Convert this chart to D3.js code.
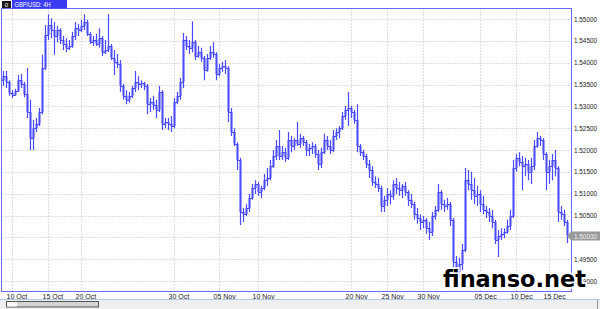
<!DOCTYPE html>
<html>
<head>
<meta charset="utf-8">
<script src="https://cdn.jsdelivr.net/npm/d3@7"></script>
<style>
  body { margin: 0; background: #fff; }
  svg { display: block; }
</style>
</head>
<body>
<div id="chart"></div>
<script>
// GBP/USD 4H bars
const opens = [
  1.5360,1.5369,1.5356,1.5331,1.5326,1.5335,1.5360,1.5351,1.5328,1.5287,
  1.5227,1.5250,1.5260,1.5287,1.5388,1.5463,1.5486,1.5475,1.5461,1.5475,
  1.5452,1.5443,1.5434,1.5438,1.5461,1.5479,1.5475,1.5484,1.5493,1.5466,
  1.5447,1.5452,1.5443,1.5456,1.5424,1.5429,1.5438,1.5411,1.5402,1.5397,
  1.5347,1.5324,1.5315,1.5324,1.5342,1.5356,1.5351,1.5353,1.5347,1.5305,
  1.5310,1.5303,1.5292,1.5333,1.5260,1.5264,1.5260,1.5255,1.5310,1.5324,
  1.5356,1.5452,1.5438,1.5434,1.5447,1.5415,1.5424,1.5411,1.5383,1.5411,
  1.5424,1.5420,1.5374,1.5388,1.5392,1.5388,1.5287,1.5241,1.5214,1.5177,
  1.5058,1.5053,1.5067,1.5090,1.5113,1.5122,1.5104,1.5113,1.5131,1.5136,
  1.5163,1.5186,1.5209,1.5186,1.5195,1.5182,1.5223,1.5209,1.5223,1.5214,
  1.5227,1.5218,1.5200,1.5205,1.5209,1.5191,1.5168,1.5195,1.5223,1.5209,
  1.5200,1.5232,1.5241,1.5250,1.5278,1.5292,1.5296,1.5287,1.5269,1.5209,
  1.5195,1.5186,1.5168,1.5154,1.5127,1.5122,1.5113,1.5072,1.5086,1.5099,
  1.5095,1.5122,1.5113,1.5108,1.5118,1.5104,1.5086,1.5076,1.5053,1.5044,
  1.5035,1.5040,1.5021,1.5012,1.5049,1.5063,1.5104,1.5076,1.5072,1.5076,
  1.5040,1.4944,1.4921,1.4939,1.4971,1.5131,1.5122,1.5108,1.5095,1.5099,
  1.5076,1.5063,1.5058,1.5049,1.5035,1.4994,1.5003,1.5008,1.5012,1.5026,
  1.5049,1.5159,1.5182,1.5173,1.5163,1.5168,1.5150,1.5163,1.5209,1.5227,
  1.5223,1.5191,1.5150,1.5163,1.5177,1.5159,1.5058,1.5053,1.5035
];
const highs = [
  1.5381,1.5381,1.5360,1.5337,1.5340,1.5372,1.5374,1.5356,1.5388,1.5315,
  1.5269,1.5273,1.5296,1.5418,1.5486,1.5511,1.5502,1.5493,1.5484,1.5479,
  1.5461,1.5456,1.5452,1.5470,1.5493,1.5489,1.5498,1.5511,1.5498,1.5470,
  1.5461,1.5466,1.5479,1.5461,1.5452,1.5511,1.5443,1.5429,1.5420,1.5406,
  1.5351,1.5337,1.5333,1.5347,1.5381,1.5369,1.5360,1.5356,1.5351,1.5319,
  1.5324,1.5315,1.5347,1.5337,1.5273,1.5273,1.5278,1.5319,1.5333,1.5365,
  1.5468,1.5461,1.5452,1.5495,1.5452,1.5438,1.5434,1.5415,1.5420,1.5438,
  1.5447,1.5424,1.5397,1.5402,1.5406,1.5392,1.5296,1.5250,1.5218,1.5182,
  1.5067,1.5076,1.5099,1.5122,1.5131,1.5127,1.5118,1.5145,1.5159,1.5177,
  1.5200,1.5223,1.5246,1.5209,1.5205,1.5241,1.5232,1.5227,1.5264,1.5237,
  1.5232,1.5223,1.5214,1.5218,1.5214,1.5200,1.5205,1.5237,1.5232,1.5223,
  1.5246,1.5250,1.5255,1.5287,1.5301,1.5333,1.5301,1.5292,1.5305,1.5214,
  1.5200,1.5191,1.5177,1.5163,1.5140,1.5136,1.5118,1.5095,1.5113,1.5108,
  1.5131,1.5136,1.5127,1.5122,1.5127,1.5108,1.5099,1.5081,1.5067,1.5053,
  1.5049,1.5044,1.5035,1.5058,1.5072,1.5122,1.5108,1.5086,1.5090,1.5081,
  1.5044,1.4957,1.4953,1.4985,1.5159,1.5154,1.5150,1.5136,1.5118,1.5108,
  1.5095,1.5072,1.5067,1.5063,1.5040,1.5017,1.5021,1.5021,1.5040,1.5063,
  1.5177,1.5191,1.5195,1.5186,1.5182,1.5177,1.5182,1.5223,1.5241,1.5232,
  1.5227,1.5195,1.5177,1.5191,1.5200,1.5163,1.5072,1.5063,1.5040
];
const lows = [
  1.5347,1.5342,1.5324,1.5319,1.5324,1.5333,1.5342,1.5321,1.5273,1.5200,
  1.5200,1.5241,1.5255,1.5282,1.5383,1.5452,1.5456,1.5418,1.5447,1.5443,
  1.5429,1.5424,1.5429,1.5434,1.5452,1.5461,1.5470,1.5475,1.5461,1.5443,
  1.5438,1.5438,1.5434,1.5415,1.5420,1.5424,1.5406,1.5372,1.5388,1.5333,
  1.5315,1.5305,1.5308,1.5319,1.5333,1.5337,1.5342,1.5337,1.5282,1.5287,
  1.5292,1.5273,1.5287,1.5246,1.5250,1.5246,1.5241,1.5250,1.5305,1.5315,
  1.5342,1.5429,1.5420,1.5424,1.5406,1.5411,1.5402,1.5360,1.5379,1.5406,
  1.5411,1.5360,1.5369,1.5379,1.5374,1.5264,1.5232,1.5209,1.5154,1.5028,
  1.5035,1.5049,1.5058,1.5086,1.5099,1.5095,1.5090,1.5108,1.5118,1.5131,
  1.5159,1.5177,1.5177,1.5177,1.5173,1.5177,1.5195,1.5200,1.5209,1.5205,
  1.5209,1.5186,1.5186,1.5191,1.5182,1.5154,1.5159,1.5191,1.5200,1.5191,
  1.5195,1.5223,1.5227,1.5246,1.5269,1.5255,1.5273,1.5260,1.5195,1.5186,
  1.5177,1.5159,1.5136,1.5118,1.5113,1.5104,1.5058,1.5058,1.5072,1.5076,
  1.5086,1.5099,1.5095,1.5090,1.5095,1.5072,1.5067,1.5040,1.5031,1.5017,
  1.5021,1.5008,1.4994,1.5003,1.5040,1.5058,1.5063,1.5058,1.5063,1.5026,
  1.4930,1.4889,1.4907,1.4925,1.4966,1.5108,1.5086,1.5076,1.5072,1.5058,
  1.5053,1.5044,1.5035,1.5021,1.4985,1.4955,1.4994,1.4998,1.5008,1.5017,
  1.5044,1.5150,1.5163,1.5108,1.5140,1.5131,1.5122,1.5154,1.5205,1.5209,
  1.5177,1.5108,1.5122,1.5131,1.5140,1.5035,1.5040,1.5026,1.4987
];
const closes = [
  1.5369,1.5356,1.5331,1.5326,1.5335,1.5360,1.5351,1.5328,1.5287,1.5227,
  1.5250,1.5260,1.5287,1.5388,1.5463,1.5486,1.5475,1.5461,1.5475,1.5452,
  1.5443,1.5434,1.5438,1.5461,1.5479,1.5475,1.5484,1.5493,1.5466,1.5447,
  1.5452,1.5443,1.5456,1.5424,1.5429,1.5438,1.5411,1.5402,1.5397,1.5347,
  1.5324,1.5315,1.5324,1.5342,1.5356,1.5351,1.5353,1.5347,1.5305,1.5310,
  1.5303,1.5292,1.5333,1.5260,1.5264,1.5260,1.5255,1.5310,1.5324,1.5356,
  1.5452,1.5438,1.5434,1.5447,1.5415,1.5424,1.5411,1.5383,1.5411,1.5424,
  1.5420,1.5374,1.5388,1.5392,1.5388,1.5287,1.5241,1.5214,1.5177,1.5058,
  1.5053,1.5067,1.5090,1.5113,1.5122,1.5104,1.5113,1.5131,1.5136,1.5163,
  1.5186,1.5209,1.5186,1.5195,1.5182,1.5223,1.5209,1.5223,1.5214,1.5227,
  1.5218,1.5200,1.5205,1.5209,1.5191,1.5168,1.5195,1.5223,1.5209,1.5200,
  1.5232,1.5241,1.5250,1.5278,1.5292,1.5296,1.5287,1.5269,1.5209,1.5195,
  1.5186,1.5168,1.5154,1.5127,1.5122,1.5113,1.5072,1.5086,1.5099,1.5095,
  1.5122,1.5113,1.5108,1.5118,1.5104,1.5086,1.5076,1.5053,1.5044,1.5035,
  1.5040,1.5021,1.5012,1.5049,1.5063,1.5104,1.5076,1.5072,1.5076,1.5040,
  1.4944,1.4921,1.4939,1.4971,1.5131,1.5122,1.5108,1.5095,1.5099,1.5076,
  1.5063,1.5058,1.5049,1.5035,1.4994,1.5003,1.5008,1.5012,1.5026,1.5049,
  1.5159,1.5182,1.5173,1.5163,1.5168,1.5150,1.5163,1.5209,1.5227,1.5223,
  1.5191,1.5150,1.5163,1.5177,1.5159,1.5058,1.5053,1.5035,1.5003
];

const dateLabels = ['10 Oct', '15 Oct', '20 Oct', '30 Oct', '05 Nov', '10 Nov',
                    '20 Nov', '25 Nov', '30 Nov', '05 Dec', '10 Dec', '15 Dec'];
const dateBars = [3, 15, 26, 57, 72, 85, 116, 128, 140, 159, 171, 182];
const priceTicks = [1.490, 1.495, 1.500, 1.505, 1.510, 1.515, 1.520,
                    1.525, 1.530, 1.535, 1.540, 1.545, 1.550];
const lastPrice = 1.50030;
const symbol = 'GBP/USD: 4H';

const W = 600, H = 309;
const PLOT = { left: 1.5, top: 8.5, right: 571.5, bottom: 291.5 };
const COLORS = {
  frame: '#6b6bf0',
  bar:   '#4a4aff',
  body:  '#a0a0ff',
  grid:  '#bdbdbd',
  text:  '#222'
};

var xScale = d3.scaleLinear()
  .domain([0, closes.length - 1])
  .range([3, 567]);
var yScale = d3.scaleLinear()
  .domain([1.49, 1.55])
  .range([281, 19]);

const px = v => Math.round(v) + 0.5;

const svg = d3.select('#chart').append('svg')
  .attr('width', W)
  .attr('height', H);

svg.append('rect').attr('width', W).attr('height', H).attr('fill', '#fff');

svg.append('clipPath').attr('id', 'plotclip')
  .append('rect')
  .attr('x', PLOT.left).attr('y', PLOT.top)
  .attr('width', PLOT.right - PLOT.left).attr('height', PLOT.bottom - PLOT.top);

// Grid
const grid = svg.append('g').attr('clip-path', 'url(#plotclip)');
grid.selectAll('.hgrid')
    .data(priceTicks)
  .enter().append('line')
    .attr('x1', PLOT.left).attr('x2', PLOT.right)
    .attr('y1', d => px(yScale(d))).attr('y2', d => px(yScale(d)))
    .attr('stroke', COLORS.grid)
    .attr('stroke-dasharray', '1,2');
grid.selectAll('.vgrid')
    .data(dateBars)
  .enter().append('line')
    .attr('x1', d => px(xScale(d))).attr('x2', d => px(xScale(d)))
    .attr('y1', PLOT.top).attr('y2', PLOT.bottom)
    .attr('stroke', COLORS.grid)
    .attr('stroke-dasharray', '1,2');

// OHLC bars
const idx = d3.range(closes.length);
const bars = svg.append('g').attr('clip-path', 'url(#plotclip)')
  .selectAll('.bar')
    .data(idx)
  .enter().append('g')
    .attr('transform', i => `translate(${px(xScale(i))},0)`);

bars.append('rect')
  .attr('x', -1.5)
  .attr('width', 3)
  .attr('y', i => yScale(Math.max(opens[i], closes[i])))
  .attr('height', i => Math.max(1, Math.abs(yScale(opens[i]) - yScale(closes[i]))))
  .attr('fill', COLORS.body)
  .attr('opacity', 0.9);
bars.append('line')
  .attr('x1', 0).attr('x2', 0)
  .attr('y1', i => yScale(highs[i])).attr('y2', i => yScale(lows[i]))
  .attr('stroke', COLORS.bar)
  .attr('stroke-width', 1.2);
bars.append('line')
  .attr('x1', -1.5).attr('x2', 0)
  .attr('y1', i => px(yScale(opens[i]))).attr('y2', i => px(yScale(opens[i])))
  .attr('stroke', COLORS.bar);
bars.append('line')
  .attr('x1', 0).attr('x2', 1.5)
  .attr('y1', i => px(yScale(closes[i]))).attr('y2', i => px(yScale(closes[i])))
  .attr('stroke', COLORS.bar);

// Frame
svg.append('rect')
  .attr('x', PLOT.left).attr('y', PLOT.top)
  .attr('width', PLOT.right - PLOT.left).attr('height', PLOT.bottom - PLOT.top)
  .attr('fill', 'none')
  .attr('stroke', COLORS.frame);

// Price axis
svg.selectAll('.ylab')
    .data(priceTicks)
  .enter().append('text')
    .text(d => d.toFixed(5))
    .attr('x', 574)
    .attr('y', d => yScale(d))
    .attr('dy', '0.35em')
    .attr('font-family', 'Liberation Sans, Arial, sans-serif')
    .attr('font-size', 7.5)
    .attr('textLength', 23)
    .attr('lengthAdjust', 'spacingAndGlyphs')
    .attr('fill', COLORS.text);

// Last price marker
const ly = yScale(lastPrice);
svg.append('path')
  .attr('d', `M567,${ly} L571,${ly - 4.5} L600,${ly - 4.5} L600,${ly + 4.5} L571,${ly + 4.5} Z`)
  .attr('fill', '#9a9a9a');
svg.append('text')
  .text(lastPrice.toFixed(5))
  .attr('x', 574).attr('y', ly).attr('dy', '0.35em')
  .attr('font-family', 'Liberation Sans, Arial, sans-serif')
  .attr('font-size', 7.5)
  .attr('textLength', 23)
  .attr('lengthAdjust', 'spacingAndGlyphs')
  .attr('fill', '#eeeeee');

// Date axis
svg.selectAll('.xlab')
    .data(dateBars)
  .enter().append('text')
    .text((d, i) => dateLabels[i])
    .attr('x', d => xScale(d) - 5.5)
    .attr('y', 298.5)
    .attr('font-family', 'Liberation Sans, Arial, sans-serif')
    .attr('font-size', 7)
    .attr('fill', COLORS.text);

// Scroll bar strip
svg.append('line')
  .attr('x1', 0).attr('x2', W).attr('y1', 299.5).attr('y2', 299.5)
  .attr('stroke', '#b4c8ee');
svg.append('rect')
  .attr('x', 0).attr('y', 300).attr('width', W).attr('height', 9)
  .attr('fill', '#efefef');
svg.append('rect')
  .attr('x', 6.5).attr('y', 301.5).attr('width', 92).attr('height', 5.5)
  .attr('fill', '#d4d4d4').attr('stroke', '#555');
svg.append('rect')
  .attr('x', 7).attr('y', 302).attr('width', 10).attr('height', 4.5)
  .attr('fill', '#fafafa');
svg.append('line')
  .attr('x1', 597.5).attr('x2', 597.5).attr('y1', 300).attr('y2', 309)
  .attr('stroke', '#999');

// Symbol header
svg.append('rect')
  .attr('x', 2).attr('y', 1).attr('width', 9).attr('height', 7)
  .attr('fill', '#1a1a1a');
svg.append('text')
  .text('0')
  .attr('x', 6.5).attr('y', 7)
  .attr('text-anchor', 'middle')
  .attr('font-family', 'Liberation Sans, Arial, sans-serif')
  .attr('font-size', 6)
  .attr('fill', '#fff');
svg.append('rect')
  .attr('x', 12).attr('y', 0).attr('width', 55).attr('height', 8.5)
  .attr('fill', '#3b3bf2');
svg.append('text')
  .text(symbol)
  .attr('x', 14.5).attr('y', 7)
  .attr('font-family', 'Liberation Sans, Arial, sans-serif')
  .attr('font-size', 7)
  .attr('textLength', 36)
  .attr('lengthAdjust', 'spacingAndGlyphs')
  .attr('fill', '#fff');

// Watermark
svg.append('text')
  .text('finanso.net')
  .attr('x', 443).attr('y', 287)
  .attr('font-family', 'DejaVu Sans, sans-serif')
  .attr('font-weight', 'bold')
  .attr('font-size', 22.5)
  .attr('textLength', 143)
  .attr('lengthAdjust', 'spacingAndGlyphs')
  .attr('fill', '#000')
  .attr('stroke', 'rgba(255,255,255,0.85)')
  .attr('stroke-width', 4)
  .attr('paint-order', 'stroke');
</script>
</body>
</html>
